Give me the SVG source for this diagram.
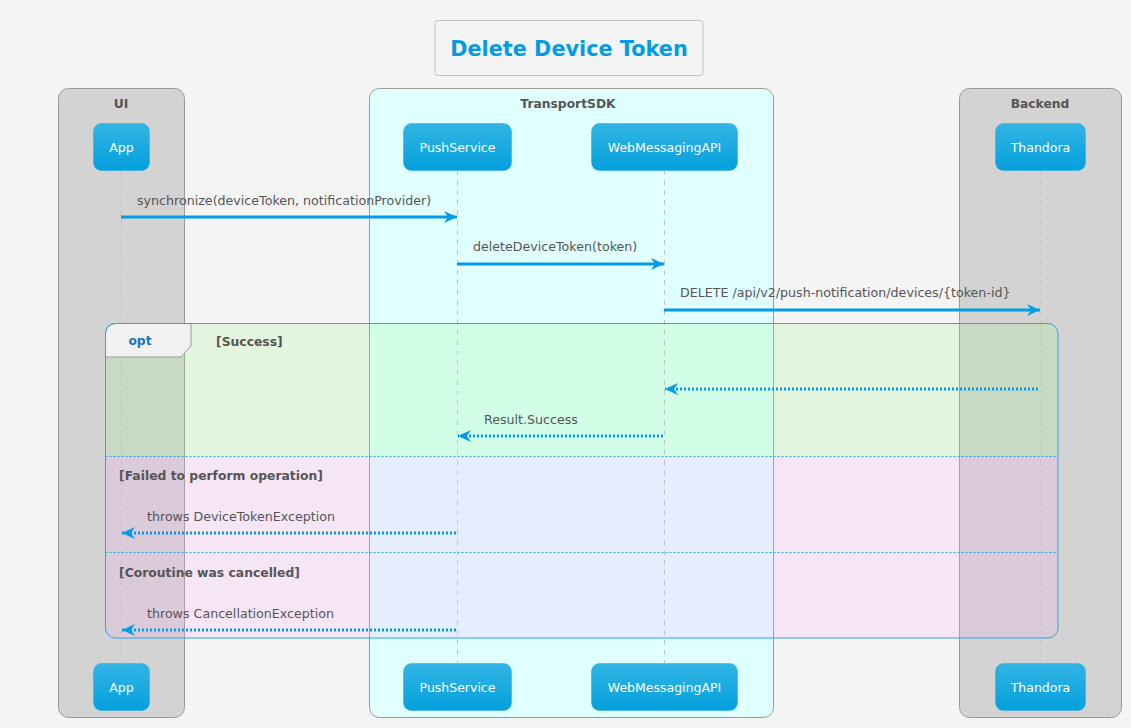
<svg xmlns="http://www.w3.org/2000/svg" width="1131" height="728" viewBox="0 0 1131 728">
<style>
text{font-family:"DejaVu Sans","Verdana",sans-serif}
.grp{stroke:#9a9a9a;stroke-width:1}
.gl{font-size:12.3px;font-weight:bold;fill:#555;text-anchor:middle}
.part rect{fill:url(#pg);stroke:#2aa9df;stroke-width:0.5}
.part text{font-size:12.5px;fill:#fff;text-anchor:middle}
.life{stroke:#c3c3c3;stroke-width:1;stroke-dasharray:5,5}
.msg{stroke:#039be5;stroke-width:3;fill:none}
.ret{stroke:#039be5;stroke-width:3;fill:none;stroke-dasharray:2,2}
.mt{font-size:12.65px;fill:#555}
.cond{font-size:12.35px;font-weight:bold;fill:#555}
.sep{stroke:#29a8e0;stroke-width:1;stroke-dasharray:2,2}
</style>
<defs>
<linearGradient id="pg" x1="0" y1="0" x2="0" y2="1">
<stop offset="0" stop-color="#33b5e5"/>
<stop offset="1" stop-color="#03a0dc"/>
</linearGradient>
<marker id="ah" markerWidth="14" markerHeight="12" refX="13" refY="6" orient="auto" markerUnits="userSpaceOnUse">
<path d="M0,0 L13,6 L0,12 L4,6 Z" fill="#039be5"/>
</marker>
</defs>
<rect width="1131" height="728" fill="#f4f4f4"/>
<g id="title">
<rect x="435" y="20.5" width="268" height="55" rx="3" fill="#f4f4f4" stroke="#c0c0c0"/>
<text x="569" y="56" font-size="20.8" font-weight="bold" fill="#039be5" text-anchor="middle">Delete Device Token</text>
</g>
<g id="box-ui">
<rect class="grp" x="58.5" y="88.5" width="126" height="629" rx="10" fill="#d3d3d3"/>
<text class="gl" x="121" y="108">UI</text>
</g>
<g id="box-transportsdk">
<rect class="grp" x="369.5" y="88.5" width="404" height="629" rx="10" fill="#e0ffff"/>
<text class="gl" x="568" y="108">TransportSDK</text>
</g>
<g id="box-backend">
<rect class="grp" x="959.5" y="88.5" width="162" height="629" rx="10" fill="#d3d3d3"/>
<text class="gl" x="1040" y="108">Backend</text>
</g>
<g id="lifelines">
<line class="life" x1="121.5" y1="170" x2="121.5" y2="663"/>
<line class="life" x1="457.5" y1="170" x2="457.5" y2="663"/>
<line class="life" x1="664.5" y1="170" x2="664.5" y2="663"/>
<line class="life" x1="1040.5" y1="170" x2="1040.5" y2="663"/>
</g>
<g id="opt-frame">
<path d="M105.5,456 V333 A10,10 0 0 1 115.5,323.5 H1048 A10,10 0 0 1 1058,333.5 V456 Z" fill="#98fc82" fill-opacity="0.18"/>
<path d="M105.5,456 V628 A10,10 0 0 0 115.5,638 H1048 A10,10 0 0 0 1058,628 V456 Z" fill="#fba0fa" fill-opacity="0.18"/>
<path d="M105.5,357 V333.5 A10,10 0 0 1 115.5,323.5 H191 V346 L181,357 Z" fill="#f1f1f1" stroke="#999" stroke-width="1"/>
<rect x="105.5" y="323.5" width="952.5" height="314.5" rx="10" fill="none" stroke="#29a8e0" stroke-width="1"/>
<text x="140" y="345" font-size="12.3" font-weight="bold" fill="#1a73c0" text-anchor="middle">opt</text>
<text class="cond" x="216" y="346">[Success]</text>
<line class="sep" x1="105.5" y1="456.5" x2="1058" y2="456.5"/>
<text class="cond" x="119" y="480">[Failed to perform operation]</text>
<line class="sep" x1="105.5" y1="552.5" x2="1058" y2="552.5"/>
<text class="cond" x="119" y="577">[Coroutine was cancelled]</text>
</g>
<g id="connectors">
<line class="msg" x1="121" y1="217" x2="457" y2="217" marker-end="url(#ah)"/>
<text class="mt" x="137" y="205">synchronize(deviceToken, notificationProvider)</text>
<line class="msg" x1="457" y1="264" x2="664" y2="264" marker-end="url(#ah)"/>
<text class="mt" x="473" y="251">deleteDeviceToken(token)</text>
<line class="msg" x1="664" y1="310" x2="1040" y2="310" marker-end="url(#ah)"/>
<text class="mt" x="680" y="297">DELETE /api/v2/push-notification/devices/{token-id}</text>
<line class="ret" x1="1038" y1="389" x2="665" y2="389" marker-end="url(#ah)"/>
<line class="ret" x1="663" y1="436" x2="458" y2="436" marker-end="url(#ah)"/>
<text class="mt" x="484" y="424">Result.Success</text>
<line class="ret" x1="456" y1="533" x2="122" y2="533" marker-end="url(#ah)"/>
<text class="mt" x="147" y="521">throws DeviceTokenException</text>
<line class="ret" x1="456" y1="630" x2="122" y2="630" marker-end="url(#ah)"/>
<text class="mt" x="147" y="618">throws CancellationException</text>
</g>
<g id="p-app" class="part"><rect x="93.5" y="123.5" width="56" height="47" rx="8"/><text x="121.5" y="152">App</text></g>
<g id="p-pushservice" class="part"><rect x="403.5" y="123.5" width="108" height="47" rx="8"/><text x="457.5" y="152">PushService</text></g>
<g id="p-webmessagingapi" class="part"><rect x="591.5" y="123.5" width="146" height="47" rx="8"/><text x="664.5" y="152">WebMessagingAPI</text></g>
<g id="p-thandora" class="part"><rect x="995.5" y="123.5" width="90" height="47" rx="8"/><text x="1040.5" y="152">Thandora</text></g>
<g id="p-app-b" class="part"><rect x="93.5" y="663.5" width="56" height="47" rx="8"/><text x="121.5" y="692">App</text></g>
<g id="p-pushservice-b" class="part"><rect x="403.5" y="663.5" width="108" height="47" rx="8"/><text x="457.5" y="692">PushService</text></g>
<g id="p-webmessagingapi-b" class="part"><rect x="591.5" y="663.5" width="146" height="47" rx="8"/><text x="664.5" y="692">WebMessagingAPI</text></g>
<g id="p-thandora-b" class="part"><rect x="995.5" y="663.5" width="90" height="47" rx="8"/><text x="1040.5" y="692">Thandora</text></g>
</svg>
